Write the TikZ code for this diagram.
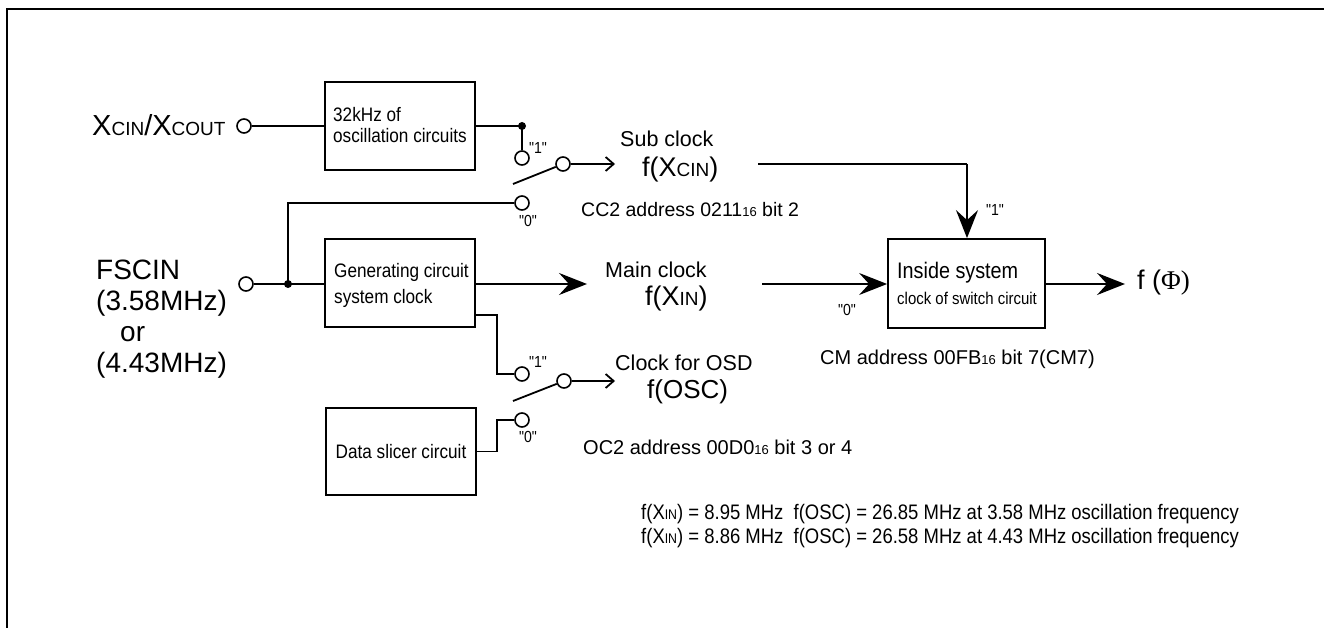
\documentclass[tikz,border=0pt]{standalone}
\usepackage{fontspec}
\setmainfont{Liberation Sans}
\newfontfamily\seriffont{Liberation Serif}
\newfontfamily\condfont[FakeStretch=0.88]{Liberation Sans}
\usetikzlibrary{arrows.meta}
\newcommand{\fsz}[1]{\fontsize{#1}{#1}\selectfont}
\newcommand{\smc}[2]{{\fsz{#1}#2}}
\begin{document}
\begin{tikzpicture}[x=1pt,y=-1pt,
  wire/.style={line width=1.8pt},
  boxnode/.style={draw,line width=1.8pt,minimum width=150pt,minimum height=88pt,inner sep=0pt},
  term/.style={circle,draw,fill=white,line width=1.6pt,minimum size=14pt,inner sep=0pt},
  jdot/.style={circle,fill=black,minimum size=8pt,inner sep=0pt},
  txt/.style={inner sep=0pt,anchor=base west},
  boxtext/.style={txt,font=\condfont\fsz{19.5}},
  qlabel/.style={inner sep=0pt,font=\condfont\fsz{16}},
  bigarrow/.style={wire,-{Stealth[length=28pt,width=22pt,inset=10pt]}},
  smallarrow/.style={wire,-{Straight Barb[length=8pt,width=14pt,line width=1.8pt]}}]
\useasboundingbox (0,0) rectangle (1324,628);
% frame
\draw[line width=2.5pt] (7,628) -- (7,9) -- (1324,9);

% ---- sub clock path
\node[txt] (xlabel) at (92,136) {\fsz{29}X\smc{19}{CIN}/X\smc{19}{COUT}};
\node[term] (xin) at (244,126) {};
\node[boxnode] (osc) at (400,126) {};
\node[boxtext] (osct1) at (333,122) {32kHz of};
\node[boxtext] (osct2) at (333,143) {oscillation circuits};
\coordinate (j1) at (522,126);
\node[term] (c1a) at (522,158) {};
\node[qlabel] (l1a) at (538,148) {"1"};
\node[term] (s1) at (563,164) {};
\coordinate (lev1) at (513,184);
\node[term] (c0a) at (522,203) {};
\node[qlabel] (l0a) at (528,221) {"0"};
\coordinate (a1) at (615,164);
\node[txt,font=\fsz{21.5}] (subt) at (620,147) {Sub clock};
\node[txt] (fxcin) at (642,177) {\fsz{27}f(X\smc{19}{CIN})};
\coordinate (sc1) at (758,164);
\coordinate (sc2) at (967,164);
\node[txt,font=\fsz{19.5}] (cc2) at (581,217) {CC2 address 0211\smc{13}{16} bit 2};

\draw[wire] (xin) -- (osc.west |- xin);
\draw[wire] (osc.east |- j1) -- (j1) -- (c1a);
\node[jdot] at (j1) {};
\draw[wire] (lev1) -- (s1);
\draw[smallarrow] (s1) -- (a1);

% ---- main clock path
\node[txt,font=\fsz{28}] (fs1) at (96,279) {FSCIN};
\node[txt,font=\fsz{28}] (fs2) at (96,310) {(3.58MHz)};
\node[txt,font=\fsz{28}] (fs3) at (120,341) {or};
\node[txt,font=\fsz{28}] (fs4) at (96,372) {(4.43MHz)};
\node[term] (fin) at (246,284) {};
\node[boxnode] (gen) at (400,283) {};
\node[boxtext] (gent1) at (334,277) {Generating circuit};
\node[boxtext] (gent2) at (334,303) {system clock};
\coordinate (j2) at (288,284);
\draw[wire] (fin) -- (gen.west |- fin);
\draw[wire] (j2) -- (288,203) -- (c0a);
\node[jdot] at (j2) {};
\coordinate (a2) at (587,284);
\draw[bigarrow] (gen.east |- a2) -- (a2);
\node[txt,font=\fsz{21.5}] (mainc) at (605,277) {Main clock};
\node[txt] (fxin) at (645,305) {\fsz{27}f(X\smc{19}{IN})};
\coordinate (mc1) at (762,284);
\node[boxnode,minimum width=157pt,minimum height=89pt] (ins) at (966.5,283.5) {};
\node[txt,font=\condfont\fsz{22.5}] (inst1) at (897,278) {Inside system};
\node[txt,font=\condfont\fsz{17}] (inst2) at (897,304) {clock of switch circuit};
\draw[bigarrow] (mc1) -- (ins.west |- mc1);
\node[qlabel] (l0c) at (847,310) {"0"};
\draw[wire] (sc1) -- (sc2);
\draw[bigarrow] (sc2) -- (ins.north -| sc2);
\node[qlabel] (l1c) at (995,210) {"1"};
\coordinate (a3) at (1125,284);
\draw[bigarrow] (ins.east |- a3) -- (a3);
\node[inner sep=0pt,anchor=west,font=\fsz{27}] (fphi) at (1137,283) {f (\seriffont\char"03A6)};
\node[txt,font=\fsz{20}] (cm) at (820,364) {CM address 00FB\smc{13}{16} bit 7(CM7)};

% ---- OSD clock path
\node[term] (c1b) at (522,374) {};
\node[qlabel] (l1b) at (538,362) {"1"};
\draw[wire] (gen.east |- 0,315) -- (497,315) -- (497,374) -- (c1b);
\node[term] (s2) at (564,381) {};
\coordinate (lev2) at (513,401);
\draw[wire] (lev2) -- (s2);
\coordinate (a4) at (615,381);
\draw[smallarrow] (s2) -- (a4);
\node[txt,font=\fsz{21.5}] (osdt) at (615,370) {Clock for OSD};
\node[txt,font=\fsz{26}] (fosc) at (647,398) {f(OSC)};
\node[term] (c0b) at (522,420) {};
\node[qlabel] (l0b) at (528,437) {"0"};
\node[boxnode,minimum height=87pt] (ds) at (401,451.5) {};
\node[font=\condfont\fsz{19.5},inner sep=0pt] (dst) at (401,452) {Data slicer circuit};
\draw[wire] (ds.east) -- (497,451.5) -- (497,420) -- (c0b);
\node[txt,font=\fsz{20}] (oc2) at (583,454) {OC2 address 00D0\smc{13}{16} bit 3 or 4};

% ---- bottom notes
\node[txt,font=\condfont\fsz{21}] (n1) at (641,519) {f(X\smc{14}{IN}) = 8.95 MHz\ \ f(OSC) = 26.85 MHz at 3.58 MHz oscillation frequency};
\node[txt,font=\condfont\fsz{21}] (n2) at (641,543) {f(X\smc{14}{IN}) = 8.86 MHz\ \ f(OSC) = 26.58 MHz at 4.43 MHz oscillation frequency};
\end{tikzpicture}
\end{document}
